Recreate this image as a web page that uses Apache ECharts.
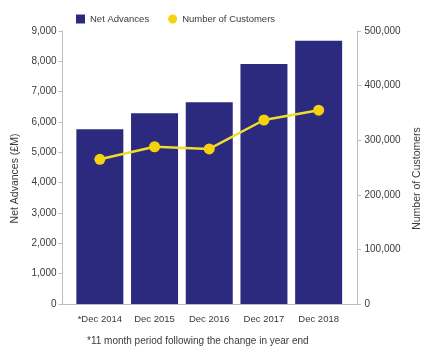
<!DOCTYPE html>
<html>
<head>
<meta charset="utf-8">
<script src="https://cdn.jsdelivr.net/npm/echarts@6/dist/echarts.min.js"></script>
<style>
html,body{margin:0;padding:0;background:#fff;}
#main{width:421px;height:347px;}
</style>
</head>
<body>
<div id="main"></div>
<script>
const categories = ['*Dec 2014', 'Dec 2015', 'Dec 2016', 'Dec 2017', 'Dec 2018'];
const netAdvances = [5760, 6290, 6650, 7910, 8680];
const customers = [265000, 288000, 284000, 337000, 355000];
const leftTicks = {min: 0, max: 9000, interval: 1000};
const rightTicks = {min: 0, max: 500000, interval: 100000};
const footnote = '*11 month period following the change in year end';

const FONT = '"Liberation Sans Narrow", "Liberation Sans", Arial, sans-serif';
const AXIS_COLOR = '#bdbdbd';
const TEXT_COLOR = '#3a3a3a';

const chart = echarts.init(document.getElementById('main'), null, {renderer: 'canvas'});
chart.setOption({
  animation: false,
  backgroundColor: '#fff',
  textStyle: {fontFamily: FONT},
  title: {
    text: footnote,
    left: 82, top: 331,
    textStyle: {fontFamily: FONT, fontSize: 10, fontWeight: 'normal', color: TEXT_COLOR}
  },
  legend: {
    left: 71, top: 9,
    itemWidth: 9, itemHeight: 9, itemGap: 19,
    textStyle: {fontFamily: FONT, fontSize: 9.5, color: TEXT_COLOR},
    data: [{name: 'Net Advances', icon: 'rect'}, {name: 'Number of Customers', icon: 'circle'}]
  },
  grid: [
    {left: 72.5, right: 75, top: 31, bottom: 43, containLabel: false, outerBoundsMode: 'none'},
    {left: 61, right: 63, top: 31, bottom: 43, containLabel: false, outerBoundsMode: 'none'}
  ],
  xAxis: [
    {
      type: 'category', gridIndex: 0, data: categories,
      axisLine: {show: false}, axisTick: {show: false},
      axisLabel: {fontFamily: FONT, fontSize: 9.5, color: TEXT_COLOR, margin: 10, interval: 0}
    },
    {
      type: 'value', gridIndex: 1, min: 0, max: 1,
      axisLine: {show: true, lineStyle: {color: AXIS_COLOR, width: 1}},
      axisTick: {show: false}, axisLabel: {show: false}, splitLine: {show: false}
    }
  ],
  yAxis: [
    {
      type: 'value', gridIndex: 0, position: 'left', offset: 10,
      min: leftTicks.min, max: leftTicks.max, interval: leftTicks.interval,
      name: 'Net Advances (£M)', nameLocation: 'middle', nameGap: 34,
      nameTextStyle: {fontFamily: FONT, fontSize: 10.5, color: TEXT_COLOR, padding: [0, 22, 0, 0]},
      axisLine: {show: true, lineStyle: {color: AXIS_COLOR, width: 1}},
      axisTick: {show: true, length: 4, lineStyle: {color: AXIS_COLOR}},
      axisLabel: {fontFamily: FONT, fontSize: 10, color: TEXT_COLOR, margin: 6},
      splitLine: {show: false}
    },
    {
      type: 'value', gridIndex: 0, position: 'right', offset: 11,
      min: rightTicks.min, max: rightTicks.max, interval: rightTicks.interval,
      name: 'Number of Customers', nameLocation: 'middle', nameGap: 55,
      nameTextStyle: {fontFamily: FONT, fontSize: 10.5, color: TEXT_COLOR, padding: [0, 22, 0, 0]},
      axisLine: {show: true, lineStyle: {color: AXIS_COLOR, width: 1}},
      axisTick: {show: true, length: 4, lineStyle: {color: AXIS_COLOR}},
      axisLabel: {fontFamily: FONT, fontSize: 10, color: TEXT_COLOR, margin: 7.5},
      splitLine: {show: false}
    },
    {
      type: 'value', gridIndex: 1, show: false, min: 0, max: 1
    }
  ],
  series: [
    {
      name: 'Net Advances', type: 'bar', xAxisIndex: 0, yAxisIndex: 0,
      data: netAdvances, barWidth: 47,
      itemStyle: {color: '#2c2a7e'}
    },
    {
      name: 'Number of Customers', type: 'line', xAxisIndex: 0, yAxisIndex: 1,
      data: customers, symbol: 'circle', symbolSize: 11,
      lineStyle: {color: '#eedc2e', width: 2.5},
      itemStyle: {color: '#f6d20c'}
    }
  ]
});
</script>
</body>
</html>
